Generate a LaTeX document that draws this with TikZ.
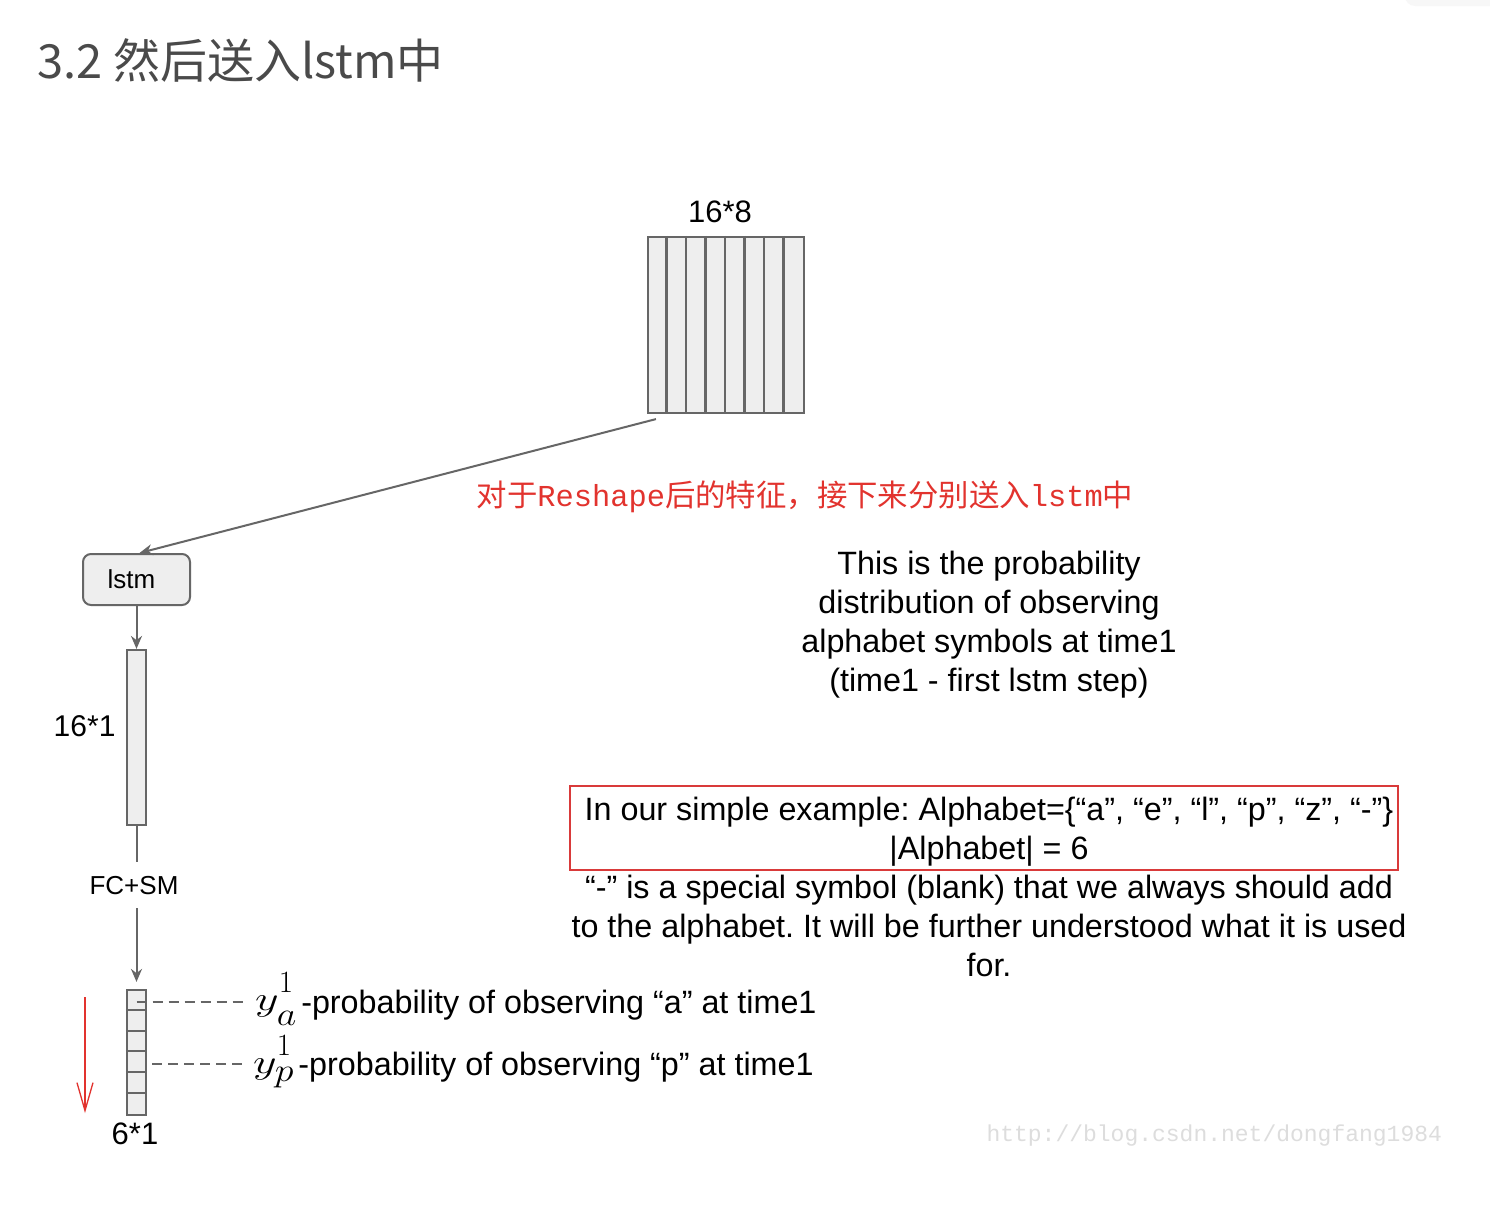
\RequirePackage{fix-cm}
\documentclass[tikz,border=0pt]{standalone}
\usepackage{fontspec}
\setmainfont{Liberation Sans}
\newfontfamily\cjk{Noto Sans CJK SC}
\newfontfamily\monofont{Liberation Mono}
\usepackage{xcolor}
\usetikzlibrary{arrows.meta, positioning, calc}
\frenchspacing
\definecolor{linegray}{HTML}{666666}
\definecolor{cellgray}{HTML}{EEEEEE}
\definecolor{titlegray}{HTML}{4A4A4A}
\definecolor{notered}{HTML}{E2332E}
\definecolor{boxred}{HTML}{D93A3A}
\definecolor{markgray}{HTML}{DDDDDD}

% #1 subscript letter, #2 its raise, #3 raise of y, #4 raise of the superscript
\newcommand{\probsym}[4]{%
  \raisebox{#3}{\scalebox{1.35}[1]{\fontsize{34}{34}\selectfont$y$}}%
  \rlap{\raisebox{#4}{\fontsize{31}{31}\selectfont$1$}}%
  \hspace{-2pt}\raisebox{#2}{\scalebox{1.15}[1]{\fontsize{33}{33}\selectfont$#1$}}\hspace{5pt}}

\tikzset{
  cellbox/.style={draw=linegray, fill=cellgray, line width=2.2pt, inner sep=0pt},
  flow/.style={draw=linegray, line width=2pt, -{Stealth[length=13pt,width=11pt]}},
  dashline/.style={draw=linegray, line width=1.8pt, dash pattern=on 10pt off 6pt},
  lbl/.style={font=\fontsize{31}{36}\selectfont},
  para/.style={align=center, font=\fontsize{32.3}{39}\selectfont}
}

\begin{document}
\begin{tikzpicture}[x=1pt, y=-1pt]
  \useasboundingbox (0,0) rectangle (1490,1218);
  \fill[white] (0,0) rectangle (1490,1218);

  % page furniture
  \fill[gray!6, rounded corners=10pt] (1405,-30) rectangle (1500,6);
  \node[titlegray, anchor=base west, font=\fontsize{47}{47}\selectfont\cjk] (title) at (34,78) {3.2 然后送入lstm中};

  % reshaped feature map
  \node[lbl, anchor=base] (featlbl) at (720,222) {16*8};
  \node[cellbox, minimum width=156pt, minimum height=176pt] (feat) at (726,325) {};
  \foreach \i in {1,...,7}
    \draw[linegray, line width=2.2pt] ($(feat.north west)+(\i*19.5,0)$) -- ($(feat.south west)+(\i*19.5,0)$);

  \node[notered, font=\fontsize{30.4}{30.4}\selectfont\cjk] (note) at (805,497) {对于{\monofont Reshape}后的特征，接下来分别送入{\monofont lstm}中};

  % lstm and outputs
  \node[draw=linegray, fill=cellgray, line width=2pt, rounded corners=8pt, minimum width=107pt, minimum height=51pt, font=\fontsize{26}{26}\selectfont] (lstm) at (136.5,579.5) {lstm\kern10pt};
  \draw[flow] ([xshift=9pt,yshift=-5pt]feat.south west) -- ([xshift=3pt]lstm.north);

  \node[cellbox, minimum width=19pt, minimum height=175pt] (vec) at (136.5,737.5) {};
  \draw[flow] (lstm.south) -- (vec.north);
  \node[font=\fontsize{30}{36}\selectfont, anchor=base east] (veclbl) at (119,736) {16*1};

  \node[font=\fontsize{26}{26}\selectfont, anchor=base] (fcsm) at (134,894) {FC+SM};
  \coordinate (fcin) at (136.5,862);
  \coordinate (fcout) at (136.5,908);
  \draw[linegray, line width=2pt] (vec.south) -- (fcin);

  \node[cellbox, minimum width=19pt, minimum height=125pt] (out) at (136.5,1052.5) {};
  \foreach \j in {1,...,5}
    \draw[linegray, line width=2pt] ($(out.north west)+(0,\j*20.83)$) -- ($(out.north east)+(0,\j*20.83)$);
  \draw[flow, shorten >=7pt] (fcout) -- (out.north);
  \node[lbl, anchor=base] (outlbl) at (135,1144) {6*1};

  % red reading direction
  \coordinate (rtop) at (85,997);
  \coordinate (rbot) at (85,1113);
  \draw[notered, line width=1.3pt, -{Straight Barb[length=28pt,width=16pt]}] (rtop) -- (rbot);

  \node[font=\fontsize{32.3}{36}\selectfont, anchor=base west, inner sep=0pt] (ya) at (255,1013) {\probsym{a}{-12pt}{3pt}{21pt}-probability of observing “a” at time1};
  \node[font=\fontsize{32.3}{36}\selectfont, anchor=base west, inner sep=0pt] (yp) at (253,1075) {\probsym{p}{-6pt}{2pt}{20pt}-probability of observing “p” at time1};
  \coordinate (yaend) at (245,1002);
  \coordinate (ypend) at (242,1064);
  \draw[dashline] (out.center |- yaend) -- (yaend);
  \draw[dashline] ([xshift=5pt]out.east |- ypend) -- (ypend);

  % explanations
  \node[para] (prob) at (989,625) {This is the probability\\distribution of observing\\alphabet symbols at time1\\(time1 - first lstm step)};
  \node[para, draw=boxred, line width=1.5pt, minimum width=828pt, minimum height=84pt, inner sep=0pt] (alpha) at (984,828) {};
  \node[para] (alphatxt) at (989,832) {In our simple example: Alphabet=\{“a”, “e”, “l”, “p”, “z”, “-”\}\\|Alphabet| = 6};
  \node[para] (blank) at (989,926) {“-” is a special symbol (blank) that we always should add\\to the alphabet. It will be further understood what it is used\\for.};

  \node[markgray, anchor=west, font=\fontsize{23}{23}\selectfont\monofont] (mark) at (983,1136) {http://blog.csdn.net/dongfang1984};
\end{tikzpicture}
\end{document}
